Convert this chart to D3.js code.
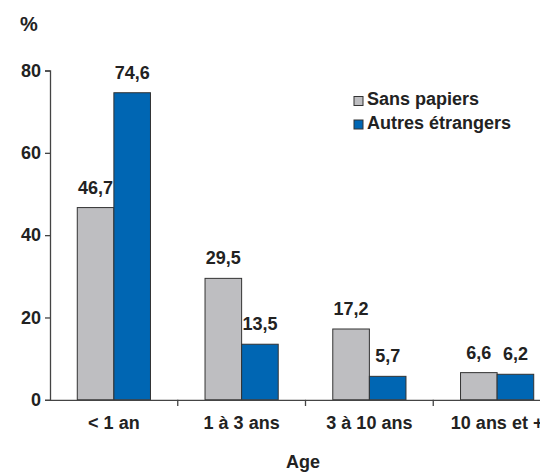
<!DOCTYPE html>
<html><head><meta charset="utf-8">
<script src="https://cdn.jsdelivr.net/npm/d3@7/dist/d3.min.js"></script>
<style>body{margin:0;background:#fff}svg{display:block}text{font-family:"Liberation Sans",Arial,sans-serif;font-weight:bold;fill:#222}</style>
</head><body>
<script>
const categories = ["< 1 an", "1 à 3 ans", "3 à 10 ans", "10 ans et +"];
const seriesNames = ["Sans papiers", "Autres étrangers"];
const sansPapiers = [46.7, 29.5, 17.2, 6.6];
const autresEtrangers = [74.6, 13.5, 5.7, 6.2];
const yTicks = [0, 20, 40, 60, 80];
const colors = ["#BEBEC1", "#0066B3"];

const W = 540, H = 475;
const FS = 18;
const svg = d3.select("body").append("svg").attr("width", W).attr("height", H);
const x0 = d3.scaleBand().domain(categories).range([50, 561]);
const bw = x0.bandwidth();
const x1 = d3.scaleBand().domain(seriesNames).range([bw / 2 - 36.6, bw / 2 + 36.6]);
const y = d3.scaleLinear().domain([0, 80]).range([399.8, 70.5]);
const fmt = v => d3.format(".1f")(v).replace(".", ",");
const data = [sansPapiers, autresEtrangers];

// bars
seriesNames.forEach((s, si) => {
  const g = svg.append("g");
  g.selectAll("rect").data(categories).join("rect")
    .attr("x", c => x0(c) + x1(s))
    .attr("y", (c, i) => y(data[si][i]))
    .attr("width", x1.bandwidth())
    .attr("height", (c, i) => y(0) - y(data[si][i]))
    .attr("fill", colors[si]).attr("stroke", "#333").attr("stroke-width", 1);
  g.selectAll("text").data(categories).join("text")
    .attr("x", c => x0(c) + x1(s) + x1.bandwidth() / 2)
    .attr("y", (c, i) => y(data[si][i]) - 14)
    .attr("text-anchor", "middle").attr("font-size", FS)
    .text((c, i) => fmt(data[si][i]));
});

// y axis
const ya = svg.append("g").attr("transform", "translate(50,0)")
  .call(d3.axisLeft(y).tickValues(yTicks).tickSize(5).tickPadding(4).tickFormat(d3.format("d")));
ya.select(".domain").attr("stroke", "#444").attr("stroke-width", 1.3);
ya.selectAll(".tick line").attr("stroke", "#444").attr("stroke-width", 1.3);
ya.selectAll(".tick text").attr("font-size", FS).attr("font-family", "Liberation Sans, Arial").attr("font-weight", "bold").attr("fill", "#222");

// x axis
const xa = svg.append("g").attr("transform", "translate(0,399.8)")
  .call(d3.axisBottom(x0).tickSize(0).tickPadding(16));
xa.select(".domain").attr("stroke", "#444").attr("stroke-width", 1.3);
xa.selectAll(".tick text").attr("font-size", FS).attr("font-family", "Liberation Sans, Arial").attr("font-weight", "bold").attr("fill", "#222");
// category boundary ticks
svg.append("g").selectAll("line").data(categories.slice(1)).join("line")
  .attr("x1", c => x0(c)).attr("x2", c => x0(c))
  .attr("y1", 399.8).attr("y2", 406).attr("stroke", "#444").attr("stroke-width", 1.3);

// titles
svg.append("text").attr("x", 20).attr("y", 31).attr("font-size", 20).text("%");
svg.append("text").attr("x", 303).attr("y", 468).attr("text-anchor", "middle").attr("font-size", FS).text("Age");

// legend
const lg = svg.append("g");
seriesNames.forEach((s, i) => {
  lg.append("rect").attr("x", 354).attr("y", 96.5 + i * 23.5).attr("width", 9).attr("height", 9)
    .attr("fill", colors[i]).attr("stroke", "#333").attr("stroke-width", 1);
  lg.append("text").attr("x", 367).attr("y", 105 + i * 23.5).attr("font-size", FS).text(s);
});
</script>
</body></html>
